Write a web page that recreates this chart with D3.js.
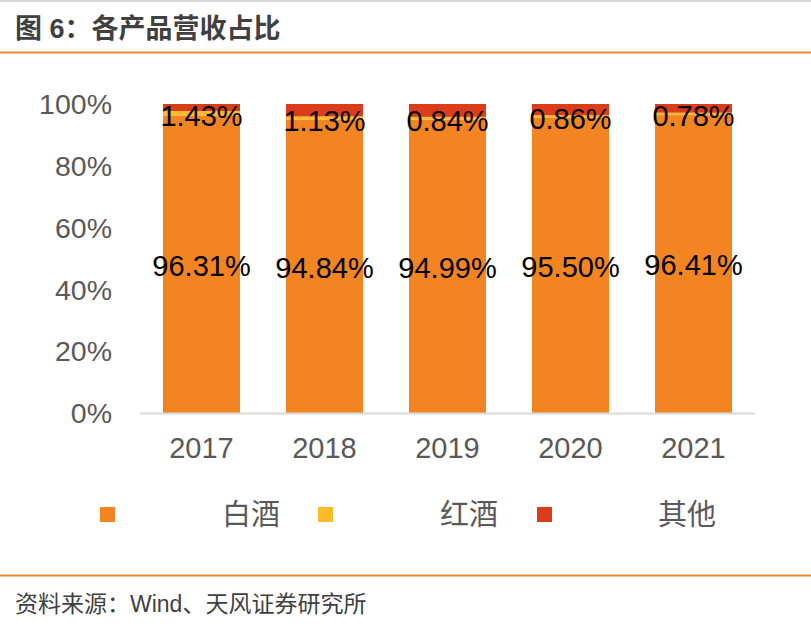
<!DOCTYPE html>
<html><head><meta charset="utf-8">
<script src="https://cdn.jsdelivr.net/npm/d3@7/dist/d3.min.js"></script>
<style>
body{margin:0;background:#fff;}
svg{display:block;}
</style></head>
<body>
<svg id="chart" width="811" height="633"></svg>
<script>
const years = ["2017","2018","2019","2020","2021"];
const seriesNames = ["白酒","红酒","其他"];
const baijiu = [96.31, 94.84, 94.99, 95.50, 96.41];
const hongjiu = [1.43, 1.13, 0.84, 0.86, 0.78];
const qita = [2.26, 4.03, 4.17, 3.64, 2.81];
const yTicks = [0, 20, 40, 60, 80, 100];
const colors = ["#F28522", "#FBBA2A", "#DB3D1B"];

const svg = d3.select("#chart");
const cjk = "'Liberation Sans', 'Noto Sans CJK SC', sans-serif";

svg.append("line").attr("x1",0).attr("x2",811).attr("y1",1).attr("y2",1).attr("stroke","#d9d9d9").attr("stroke-width",2);
svg.append("text").attr("x",15).attr("y",38).attr("font-family",cjk).attr("font-size",27).attr("font-weight","bold").attr("fill","#404040").text("图 6：各产品营收占比");
svg.append("line").attr("x1",0).attr("x2",811).attr("y1",52.5).attr("y2",52.5).attr("stroke","#E8893A").attr("stroke-width",2);
svg.append("line").attr("x1",0).attr("x2",811).attr("y1",575.5).attr("y2",575.5).attr("stroke","#E8893A").attr("stroke-width",2);
svg.append("text").attr("x",15).attr("y",612).attr("font-family",cjk).attr("font-size",23).attr("fill","#404040").text("资料来源：Wind、天风证券研究所");

const x = d3.scaleBand().domain(years).range([140,755]).paddingInner(0.374).paddingOuter(0.187);
const y = d3.scaleLinear().domain([0,100]).range([413,104]);

svg.append("g").selectAll("text").data(yTicks).join("text")
  .attr("x",112).attr("y",d=>y(d)).attr("dy","0.36em").attr("text-anchor","end")
  .attr("font-family",cjk).attr("font-size",28.5).attr("fill","#595959").text(d=>d+"%");

const rows = years.map((yr,i)=>({year:yr, s0:baijiu[i], s1:hongjiu[i], s2:qita[i]}));
const stack = d3.stack().keys(["s0","s1","s2"])(rows);

svg.append("g").selectAll("g").data(stack).join("g").attr("fill",(d,i)=>colors[i])
  .selectAll("rect").data(d=>d).join("rect")
  .attr("x",d=>x(d.data.year)).attr("width",x.bandwidth())
  .attr("y",d=>y(d[1])).attr("height",d=>y(d[0])-y(d[1]));

svg.append("line").attr("x1",140).attr("x2",755).attr("y1",413.5).attr("y2",413.5).attr("stroke","#d9d9d9").attr("stroke-width",2);

svg.append("g").selectAll("text").data(years).join("text")
  .attr("x",d=>x(d)+x.bandwidth()/2).attr("y",448).attr("dy","0.36em").attr("text-anchor","middle")
  .attr("font-family",cjk).attr("font-size",29).attr("fill","#595959").text(d=>d);

const fmt = v=>v.toFixed(2)+"%";
svg.append("g").selectAll("text").data(stack[0]).join("text")
  .attr("x",d=>x(d.data.year)+x.bandwidth()/2).attr("y",d=>y((d[0]+d[1])/2)+1).attr("dy","0.36em")
  .attr("text-anchor","middle").attr("font-family",cjk).attr("font-size",29).attr("fill","#000").text(d=>fmt(d[1]-d[0]));
svg.append("g").selectAll("text").data(stack[1]).join("text")
  .attr("x",d=>x(d.data.year)+x.bandwidth()/2).attr("y",d=>y((d[0]+d[1])/2)+2).attr("dy","0.36em")
  .attr("text-anchor","middle").attr("font-family",cjk).attr("font-size",29).attr("fill","#000").text(d=>fmt(d[1]-d[0]));

const legX = [100, 318, 537];
const textX = [251, 469, 687];
const lg = svg.append("g").selectAll("g").data(seriesNames).join("g");
lg.append("rect").attr("x",(d,i)=>legX[i]).attr("y",507).attr("width",15).attr("height",15).attr("fill",(d,i)=>colors[i]);
lg.append("text").attr("x",(d,i)=>textX[i]).attr("y",515).attr("dy","0.36em").attr("text-anchor","middle")
  .attr("font-family",cjk).attr("font-size",29).attr("fill","#595959").text(d=>d);
</script>
</body></html>
